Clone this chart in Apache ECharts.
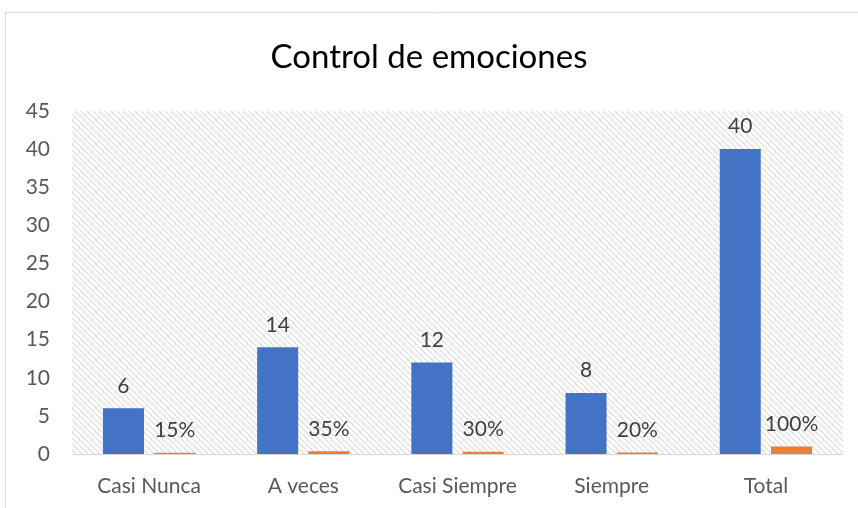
<!DOCTYPE html>
<html>
<head>
<meta charset="utf-8">
<script src="https://cdn.jsdelivr.net/npm/echarts@6/dist/echarts.min.js"></script>
<style>
  html, body { margin: 0; padding: 0; background: #fff; }
  #chart { width: 858px; height: 508px; }
</style>
</head>
<body>
<div id="chart"></div>
<script>
var categories = ['Casi Nunca', 'A veces', 'Casi Siempre', 'Siempre', 'Total'];
var counts = [6, 14, 12, 8, 40];
var shares = [0.15, 0.35, 0.30, 0.20, 1.00];
var shareLabels = ['15%', '35%', '30%', '20%', '100%'];

// hatch pattern for the plot area
function hatch() {
    var c = document.createElement('canvas');
    c.width = 6; c.height = 6;
    var ctx = c.getContext('2d');
    ctx.fillStyle = '#fff';
    ctx.fillRect(0, 0, 6, 6);
    ctx.strokeStyle = '#dcdcdc';
    ctx.lineWidth = 1.2;
    ctx.beginPath();
    ctx.moveTo(0, 0); ctx.lineTo(6, 6);
    ctx.moveTo(-3, 3); ctx.lineTo(3, 9);
    ctx.moveTo(3, -3); ctx.lineTo(9, 3);
    ctx.stroke();
    return c;
}

var font = 'Lato, "Open Sans", sans-serif';

var option = {
    animation: false,
    textStyle: { fontFamily: font },
    title: {
        text: 'Control de emociones',
        left: 'center',
        top: 36,
        textStyle: { fontSize: 33, fontWeight: 'normal', color: '#000', fontFamily: font }
    },
    graphic: [{
        type: 'rect',
        shape: { x: 5.5, y: 12.5, width: 860, height: 500 },
        style: { fill: 'none', stroke: '#d9d9d9', lineWidth: 1 },
        silent: true
    }],
    grid: {
        left: 72,
        right: 15,
        top: 111,
        bottom: 54,
        show: true,
        borderWidth: 0,
        backgroundColor: { image: hatch(), repeat: 'repeat' }
    },
    xAxis: {
        type: 'category',
        data: categories,
        axisTick: { show: false },
        axisLine: { lineStyle: { color: '#d9d9d9', width: 1 } },
        axisLabel: { color: '#595959', fontSize: 21, margin: 22, interval: 0 }
    },
    yAxis: {
        type: 'value',
        min: 0,
        max: 45,
        interval: 5,
        splitLine: { show: false },
        axisLine: { show: false },
        axisTick: { show: false },
        axisLabel: { color: '#595959', fontSize: 21, margin: 22, align: 'right' }
    },
    series: [{
        type: 'bar',
        data: counts,
        barWidth: '26.6%',
        barGap: '25%',
        itemStyle: { color: '#4472c4' },
        label: { show: true, position: 'top', distance: 12, color: '#404040', fontSize: 21 }
    }, {
        type: 'bar',
        data: shares,
        barWidth: '26.6%',
        itemStyle: { color: '#ed7d31' },
        label: {
            show: true, position: 'top', distance: 12, color: '#404040', fontSize: 21,
            formatter: function (p) { return shareLabels[p.dataIndex]; }
        }
    }]
};

var myChart = echarts.init(document.getElementById('chart'));
myChart.setOption(option);
</script>
</body>
</html>
